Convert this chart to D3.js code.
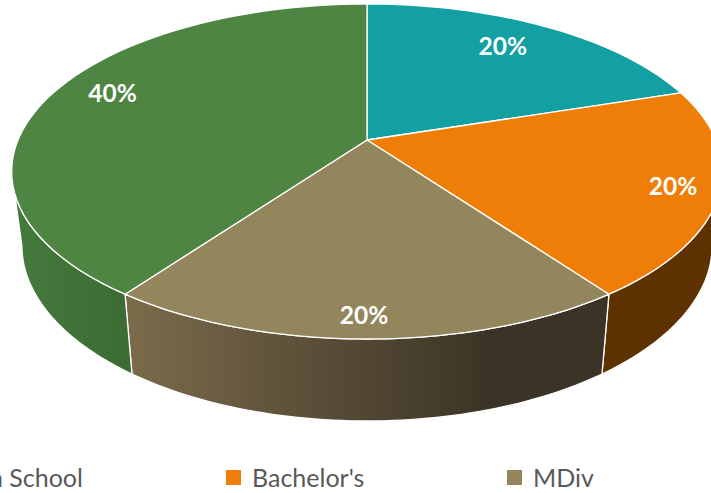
<!DOCTYPE html>
<html><head><meta charset="utf-8">
<script src="https://cdn.jsdelivr.net/npm/d3@7/dist/d3.min.js"></script>
<style>html,body{margin:0;padding:0;background:#fff;overflow:hidden}svg{display:block}</style>
</head><body><svg id="c" width="711" height="493"></svg>
<script>
const categories = ["High School", "Bachelor's", "MDiv", ""];
const values = [20, 20, 20, 40];
const topColors = ["#12a0a2", "#ee7e08", "#94865c", "#4e8543"];
const wallStops = [
  ["#0c6a6b", "#0c6a6b"],
  ["#5e3200", "#5e3200"],
  ["#7a6a4a", "#3b3426"],
  ["#457a3d", "#3c6c33"]
];
const labelRadius = [0.78, 0.875, 0.9, 0.83];
const labelTurn = [-2, 0, 0.46, 3.7];
const legendLeft = [-75, 226, 507];

const svg = d3.select("#c");
const cx = 367;
const TOP = {y0: 140, K: 349, A: 161.6, c: 0.188};
const BASE = {y0: 212.4, K: 339, A: 169.4, c: 0.188};
const proj = (P, a, r = 1) => {
  const u = r * Math.sin(a), v = r * Math.cos(a), d = 1 + P.c * v;
  return [cx + P.K * u / d, P.y0 - P.A * v / d];
};
const arcsData = d3.pie().sort(null).value(d => d)(values);
const sampled = (P, a0, a1) => d3.range(0, 61).map(i => proj(P, a0 + (a1 - a0) * i / 60));
const line = d3.line().curve(d3.curveLinear);

const defs = svg.append("defs");
wallStops.forEach((s, i) => {
  const g = defs.append("linearGradient").attr("id", "w" + i)
    .attr("gradientUnits", "userSpaceOnUse")
    .attr("x1", i === 2 ? 132 : 12).attr("x2", i === 2 ? 490 : 132).attr("y1", 0).attr("y2", 0);
  g.append("stop").attr("offset", 0).attr("stop-color", s[0]);
  g.append("stop").attr("offset", 1).attr("stop-color", s[1]);
});

// visible limits of the side wall (silhouette of the projected rim)
const visFrom = Math.acos(-TOP.c), visTo = 2 * Math.PI - visFrom;
const walls = arcsData.map((d, i) => ({
  i, a0: Math.max(d.startAngle, visFrom), a1: Math.min(d.endAngle, visTo)
})).filter(d => d.a1 > d.a0);

svg.append("g").selectAll("path").data(walls).join("path")
  .attr("d", d => line([...sampled(TOP, d.a0, d.a1), ...sampled(BASE, d.a0, d.a1).reverse()]) + "Z")
  .attr("fill", d => `url(#w${d.i})`)
  .attr("stroke", "#fff").attr("stroke-width", 1.3).attr("stroke-linejoin", "round");

svg.append("g").selectAll("path").data(arcsData).join("path")
  .attr("d", d => line([[cx, TOP.y0], ...sampled(TOP, d.startAngle, d.endAngle)]) + "Z")
  .attr("fill", (d, i) => topColors[i])
  .attr("stroke", "#fff").attr("stroke-width", 1.3).attr("stroke-linejoin", "round");

svg.append("g").selectAll("text").data(arcsData).join("text")
  .attr("transform", (d, i) => {
    const a = (d.startAngle + d.endAngle) / 2 + labelTurn[i] * Math.PI / 180;
    const p = proj(TOP, a, labelRadius[i]);
    return `translate(${p[0]},${p[1]})`;
  })
  .attr("text-anchor", "middle").attr("dy", "0.35em")
  .attr("font-family", "Lato").attr("font-weight", 700).attr("font-size", 24.5)
  .attr("fill", "#fff")
  .text(d => d3.format(".0%")(d.value / d3.sum(values)));

const lg = svg.append("g").selectAll("g").data(categories.slice(0, 3)).join("g")
  .attr("transform", (d, i) => `translate(${legendLeft[i]},470)`);
lg.append("rect").attr("width", 15).attr("height", 15)
  .attr("fill", (d, i) => topColors[i]);
lg.append("text").attr("x", 26).attr("y", 17)
  .attr("font-family", "Lato").attr("font-size", 25).attr("fill", "#595959")
  .text(d => d);
</script></body></html>
